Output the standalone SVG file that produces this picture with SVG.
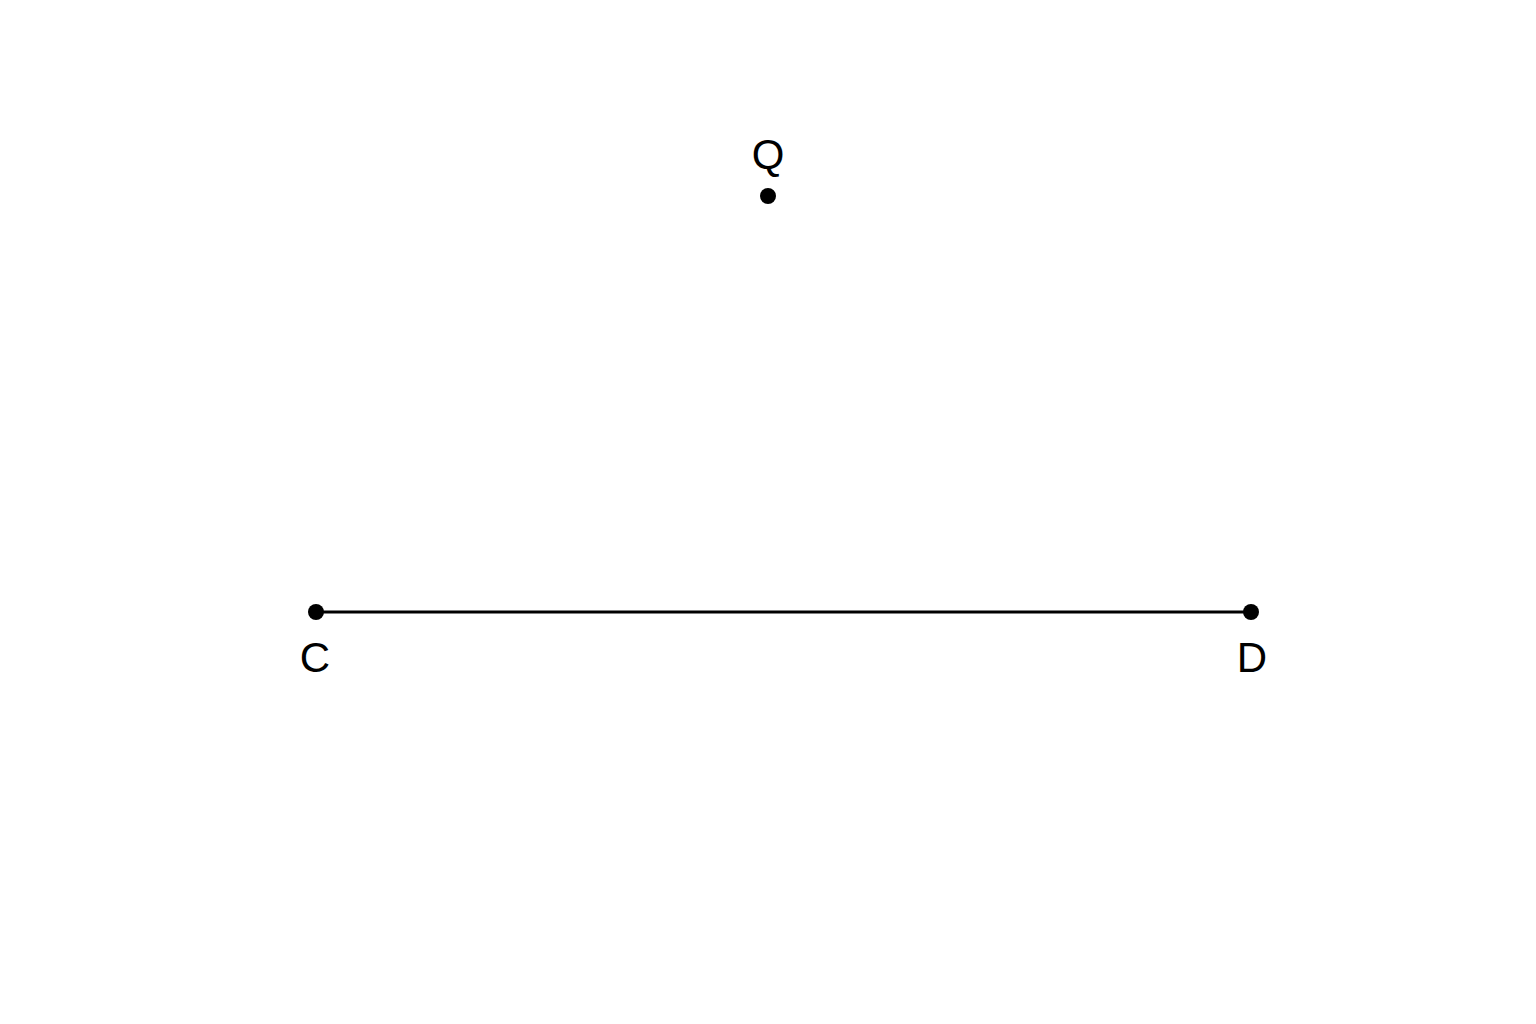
<svg xmlns="http://www.w3.org/2000/svg" width="1536" height="1024" viewBox="0 0 1536 1024">
<style>
.lbl{font-family:"Liberation Sans",Arial,sans-serif;font-size:42px;fill:#000;text-anchor:middle}
.pt{fill:#000}
</style>
<rect width="1536" height="1024" fill="#fff"/>
<g id="connectors">
<line x1="316" y1="612" x2="1251" y2="612" stroke="#000" stroke-width="3"/>
</g>
<g id="Q"><circle class="pt" cx="768" cy="196" r="8"/><text class="lbl" x="768" y="169">Q</text></g>
<g id="C"><circle class="pt" cx="316" cy="612" r="8"/><text class="lbl" x="315" y="672">C</text></g>
<g id="D"><circle class="pt" cx="1251" cy="612" r="8"/><text class="lbl" x="1252" y="672">D</text></g>
</svg>
